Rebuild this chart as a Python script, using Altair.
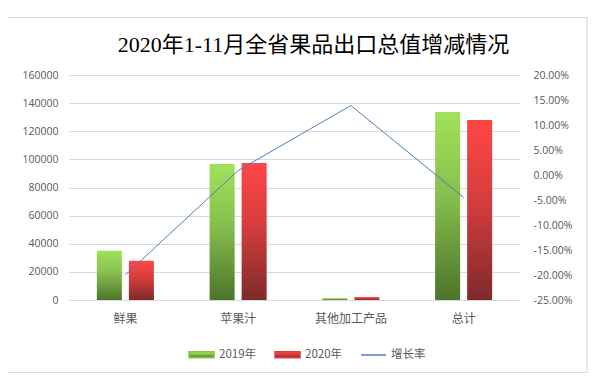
import altair as alt
import pandas as pd

# ---- data ----
categories = ["鲜果", "苹果汁", "其他加工产品", "总计"]
values_2019 = [35000, 96700, 1300, 133700]
values_2020 = [28000, 97400, 2100, 128000]
growth_rate = [-0.200, 0.009, 0.139, -0.045]
series_names = ["2019年", "2020年", "增长率"]
left_ticks = [0, 20000, 40000, 60000, 80000, 100000, 120000, 140000, 160000]
right_ticks = [-0.25, -0.20, -0.15, -0.10, -0.05, 0.0, 0.05, 0.10, 0.15, 0.20]

bars_df = pd.DataFrame({
    "cat": categories * 2,
    "year": [series_names[0]] * 4 + [series_names[1]] * 4,
    "value": values_2019 + values_2020,
})
line_df = pd.DataFrame({"cat": categories, "rate": growth_rate, "series": [series_names[2]] * 4})
frame_df = pd.DataFrame({"a": [0]})

GREEN = "#8CC63F"
RED = "#E03C3C"
BLUE = "#4A7EBB"
G_TOP, G_MID, G_BOT = "#A0E25A", "#86BF4E", "#4D742B"
R_TOP, R_MID, R_BOT = "#FF4646", "#D63D3D", "#7E2A2A"
grad_green = {"gradient": "linear", "x1": 0, "y1": 0, "x2": 0, "y2": 1,
              "stops": [{"offset": 0, "color": G_TOP},
                        {"offset": 0.45, "color": G_MID},
                        {"offset": 1, "color": G_BOT}]}
grad_red = {"gradient": "linear", "x1": 0, "y1": 0, "x2": 0, "y2": 1,
            "stops": [{"offset": 0, "color": R_TOP},
                      {"offset": 0.45, "color": R_MID},
                      {"offset": 1, "color": R_BOT}]}

LABEL = "#595959"
GRID = "#D9D9D9"


def grad_expr(top, mid, bot):
    return ("{gradient: 'linear', x1: 0, y1: 0, x2: 0, y2: 1, stops: ["
            f"{{offset: 0, color: '{top}'}}, {{offset: 0.45, color: '{mid}'}}, "
            f"{{offset: 1, color: '{bot}'}}]}}")


fill_expr = (f"datum.value === '2019年' ? {grad_expr(G_TOP, G_MID, G_BOT)} : "
             f"datum.value === '2020年' ? {grad_expr(R_TOP, R_MID, R_BOT)} : 'transparent'")
stroke_expr = f"datum.value === '增长率' ? '{BLUE}' : 'transparent'"
shape_expr = "datum.value === '增长率' ? 'M-1,0H1' : 'M-1,-0.24H1V0.24H-1Z'"

x_enc = alt.X("cat:N", sort=categories, title=None,
              scale=alt.Scale(paddingInner=0.494, paddingOuter=0.247),
              axis=alt.Axis(labelAngle=0, domain=False, ticks=False, labelPadding=13,
                            labelFont="Noto Sans CJK SC", labelFontSize=12, labelColor=LABEL))

bars = alt.Chart(bars_df).mark_bar().encode(
    x=x_enc,
    xOffset=alt.XOffset("year:N", sort=series_names[:2],
                        scale=alt.Scale(paddingInner=0.219, paddingOuter=0)),
    y=alt.Y("value:Q", title=None,
            scale=alt.Scale(domain=[0, 160000], nice=False),
            axis=alt.Axis(values=left_ticks, format="d", grid=True, gridColor=GRID,
                          domain=False, ticks=False, labelPadding=11,
                          labelFont="Open Sans", labelFontSize=10.5, labelColor=LABEL)),
    fill=alt.condition("datum.year === '2019年'", alt.value(grad_green), alt.value(grad_red)),
)

line = alt.Chart(line_df).mark_line(strokeWidth=1).encode(
    x=alt.X("cat:N", sort=categories),
    y=alt.Y("rate:Q", title=None,
            scale=alt.Scale(domain=[-0.25, 0.20], nice=False),
            axis=alt.Axis(orient="right", values=right_ticks, grid=False, domain=False,
                          ticks=False, labelPadding=13,
                          labelExpr="replace(format(datum.value, '.2%'), '\u2212', '-')",
                          labelFont="Open Sans", labelFontSize=10.5, labelColor=LABEL)),
    color=alt.Color("series:N", title=None,
                    scale=alt.Scale(domain=series_names, range=[GREEN, RED, BLUE]),
                    legend=alt.Legend(orient="none", direction="horizontal",
                                      legendX=119, legendY=266, padding=0,
                                      symbolSize=625, columnPadding=15, labelOffset=4,
                                      symbolFillColor=alt.ExprRef(fill_expr),
                                      symbolStrokeColor=alt.ExprRef(stroke_expr),
                                      symbolType=alt.ExprRef(shape_expr),
                                      symbolStrokeWidth=1.5, symbolOpacity=1,
                                      labelFont="Noto Sans CJK SC", labelFontSize=11.5,
                                      labelColor=LABEL)),
)

frame = alt.Chart(frame_df).mark_rect(
    fill="#FFFFFF", fillOpacity=0, stroke=GRID, strokeWidth=1.2, strokeOpacity=1, opacity=1
).encode(
    x=alt.value(-61.5), x2=alt.value(518), y=alt.value(-57.5), y2=alt.value(297.5)
)

chart = alt.layer(frame, bars, line).resolve_scale(y="independent").properties(
    width=451, height=225,
    autosize="none",
    padding={"left": 61, "top": 67, "right": 68, "bottom": 73},
    title=alt.TitleParams("2020年1-11月全省果品出口总值增减情况",
                          font="Liberation Serif, Noto Sans CJK SC",
                          fontSize=22, fontWeight="normal", color="#000000",
                          anchor="middle", baseline="alphabetic", offset=0, dx=19, dy=57),
).configure_view(stroke=None)

chart.save("out.html", embed_options={"renderer": "svg", "actions": False})
